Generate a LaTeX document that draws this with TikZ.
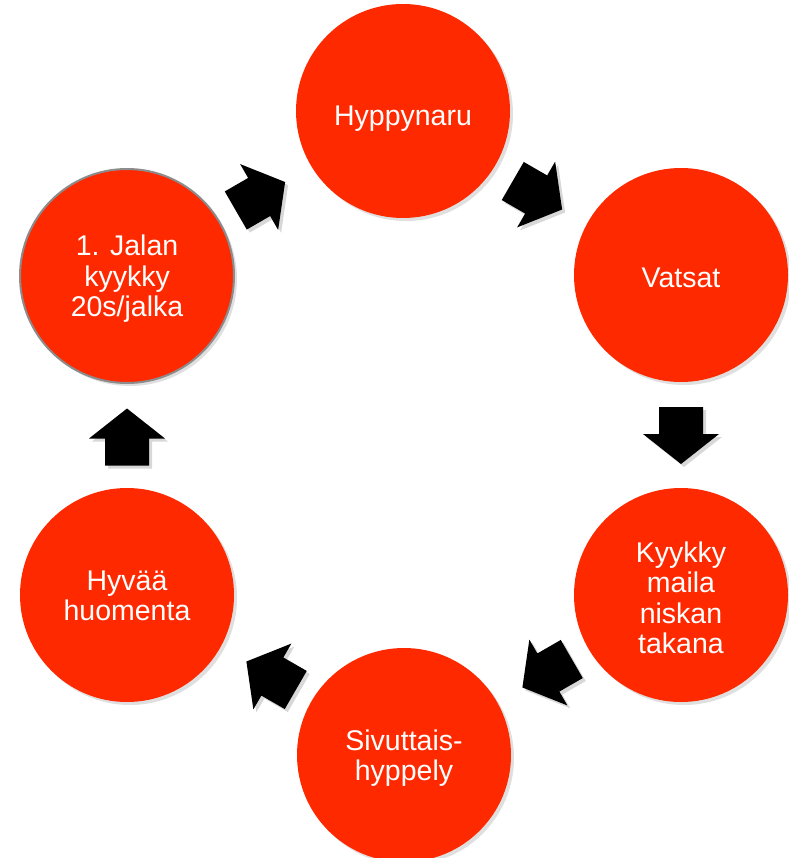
\documentclass[tikz,border=0pt]{standalone}
\usepackage{fontspec}
\setmainfont{Liberation Sans}
\usetikzlibrary{shadows,calc}
\definecolor{circred}{RGB}{255,41,0}
\tikzset{
  station/.style={circle, minimum size=214pt, inner sep=0pt, fill=circred,
    drop shadow={opacity=0.25, shadow xshift=3pt, shadow yshift=-3pt}},
  stext/.style={text=white, align=center, inner sep=0pt,
    font=\fontsize{28.5}{30.5}\selectfont, yshift=-3pt},
  blockarrow/.pic={
    \fill[black, drop shadow={opacity=0.3, shadow xshift=3pt, shadow yshift=-3pt}]
      (-28,-22) -- (-1,-22) -- (-1,-38) -- (29,0) -- (-1,38) -- (-1,22) -- (-28,22) -- cycle;
  }
}
\begin{document}
\begin{tikzpicture}[x=1pt,y=1pt]
\useasboundingbox[fill=white] (0,0) rectangle (788,-858);
\node[station, label={[stext, yshift=-5pt]center:Hyppynaru}] (hyp) at (403,-111) {};
\node[station, label={[stext]center:Vatsat}] (vat) at (681,-275) {};
\node[station, label={[stext]center:{Kyykky\\maila\\niskan\\takana}}] (kyy) at (681,-595) {};
\node[station, label={[stext]center:{Sivuttais-\\hyppely}}] (siv) at (404,-755) {};
\node[station, label={[stext, yshift=2pt]center:{Hyvää\\huomenta}}] (hyv) at (127,-595) {};
\node[station, draw=gray!90, line width=2pt, label={[stext]center:{1. Jalan\\kyykky\\20s/jalka}}] (jal) at (127,-276) {};
\coordinate (m1) at ($(jal)!0.5!(hyp)+(-5,-3)$);
\coordinate (m2) at ($(hyp)!0.5!(vat)+(-5,-2)$);
\coordinate (m3) at ($(vat)!0.5!(kyy)$);
\coordinate (m4) at ($(kyy)!0.5!(siv)+(5,2)$);
\coordinate (m5) at ($(siv)!0.5!(hyv)+(6,-1)$);
\coordinate (m6) at ($(hyv)!0.5!(jal)+(0,-2)$);
\path (m1) pic[rotate=30] {blockarrow};
\path (m2) pic[rotate=-30] {blockarrow};
\path (m3) pic[rotate=-90] {blockarrow};
\path (m4) pic[rotate=210] {blockarrow};
\path (m5) pic[rotate=150] {blockarrow};
\path (m6) pic[rotate=90] {blockarrow};
\end{tikzpicture}
\end{document}
